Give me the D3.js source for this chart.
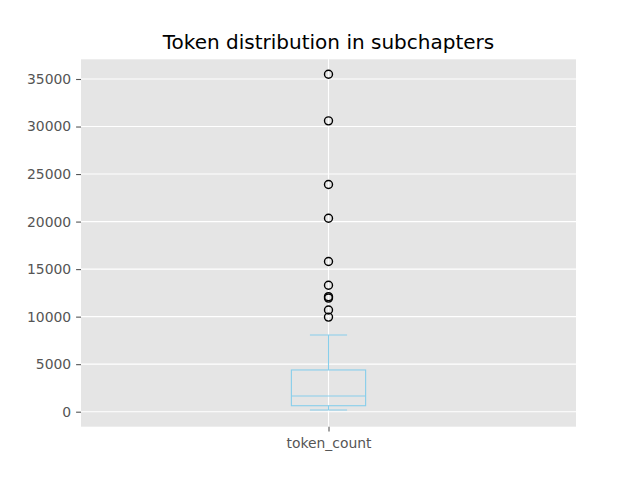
<!DOCTYPE html>
<html><head><meta charset="utf-8">
<script src="https://cdn.jsdelivr.net/npm/d3@7"></script>
<style>body{margin:0;background:#fff}svg{display:block}</style>
</head><body>
<script>
const category = "token_count";
const boxStats = {whiskerLow: 180, q1: 630, median: 1650, q3: 4390, whiskerHigh: 8070};
const fliers = [35500, 30600, 23900, 20350, 15800, 13300, 12100, 11950, 10700, 9950];
const yTicks = [0, 5000, 10000, 15000, 20000, 25000, 30000, 35000];
const title = "Token distribution in subchapters";

const W = 640, H = 480;
const ax = {left: 81, right: 576, top: 59.3, bottom: 426.7};
const font = "DejaVu Sans, sans-serif";
const boxColor = "#87CEEB";

const svg = d3.select("body").append("svg").attr("width", W).attr("height", H);

const y = d3.scaleLinear().domain([0, 35000]).range([411.7, 79]);
const x = d3.scaleLinear().domain([0.5, 1.5]).range([ax.left, ax.right]);

svg.append("rect").attr("x", ax.left).attr("y", ax.top)
  .attr("width", ax.right - ax.left).attr("height", ax.bottom - ax.top).attr("fill", "#E5E5E5");

// grid
const g = svg.append("g");
g.selectAll("line.hg").data(yTicks).join("line")
  .attr("x1", ax.left).attr("x2", ax.right)
  .attr("y1", d => y(d)).attr("y2", d => y(d))
  .attr("stroke", "#fff").attr("stroke-width", 1.1);
g.append("line").attr("x1", x(1)).attr("x2", x(1)).attr("y1", ax.top).attr("y2", ax.bottom)
  .attr("stroke", "#fff").attr("stroke-width", 1.1);

// y axis
const yAxis = d3.axisLeft(y).tickValues(yTicks).tickSize(4.9).tickPadding(4.9).tickFormat(d3.format("d"));
const ya = svg.append("g").attr("transform", `translate(${ax.left},0)`).call(yAxis);
ya.select(".domain").remove();
ya.selectAll("line").attr("stroke", "#555").attr("stroke-width", 1.1);
ya.selectAll("text").attr("fill", "#555").attr("font-family", font).attr("font-size", 13.9);

// x axis
const xAxis = d3.axisBottom(x).tickValues([1]).tickSize(4.9).tickPadding(6.8).tickFormat(() => category);
const xa = svg.append("g").attr("transform", `translate(0,${ax.bottom})`).call(xAxis);
xa.select(".domain").remove();
xa.selectAll("line").attr("stroke", "#555").attr("stroke-width", 1.1);
xa.selectAll("text").attr("fill", "#555").attr("font-family", font).attr("font-size", 13.9);

// box
const bw = 0.15, cw = 0.075;
const b = svg.append("g").attr("stroke", boxColor).attr("stroke-width", 1.1).attr("fill", "none");
b.append("rect").attr("x", x(1 - bw/2)).attr("width", x(1 + bw/2) - x(1 - bw/2))
  .attr("y", y(boxStats.q3)).attr("height", y(boxStats.q1) - y(boxStats.q3));
b.append("line").attr("x1", x(1 - bw/2)).attr("x2", x(1 + bw/2))
  .attr("y1", y(boxStats.median)).attr("y2", y(boxStats.median));
b.append("line").attr("x1", x(1)).attr("x2", x(1)).attr("y1", y(boxStats.q3)).attr("y2", y(boxStats.whiskerHigh));
b.append("line").attr("x1", x(1)).attr("x2", x(1)).attr("y1", y(boxStats.q1)).attr("y2", y(boxStats.whiskerLow));
[boxStats.whiskerHigh, boxStats.whiskerLow].forEach(v => {
  b.append("line").attr("x1", x(1 - cw/2)).attr("x2", x(1 + cw/2)).attr("y1", y(v)).attr("y2", y(v));
});

// fliers
svg.append("g").selectAll("circle").data(fliers).join("circle")
  .attr("cx", x(1)).attr("cy", d => y(d)).attr("r", 4)
  .attr("fill", "none").attr("stroke", "#000").attr("stroke-width", 1.4);

svg.append("text").attr("x", x(1)).attr("y", 49).attr("text-anchor", "middle")
  .attr("font-family", font).attr("font-size", 20).attr("fill", "#000").text(title);
</script>
</body></html>
